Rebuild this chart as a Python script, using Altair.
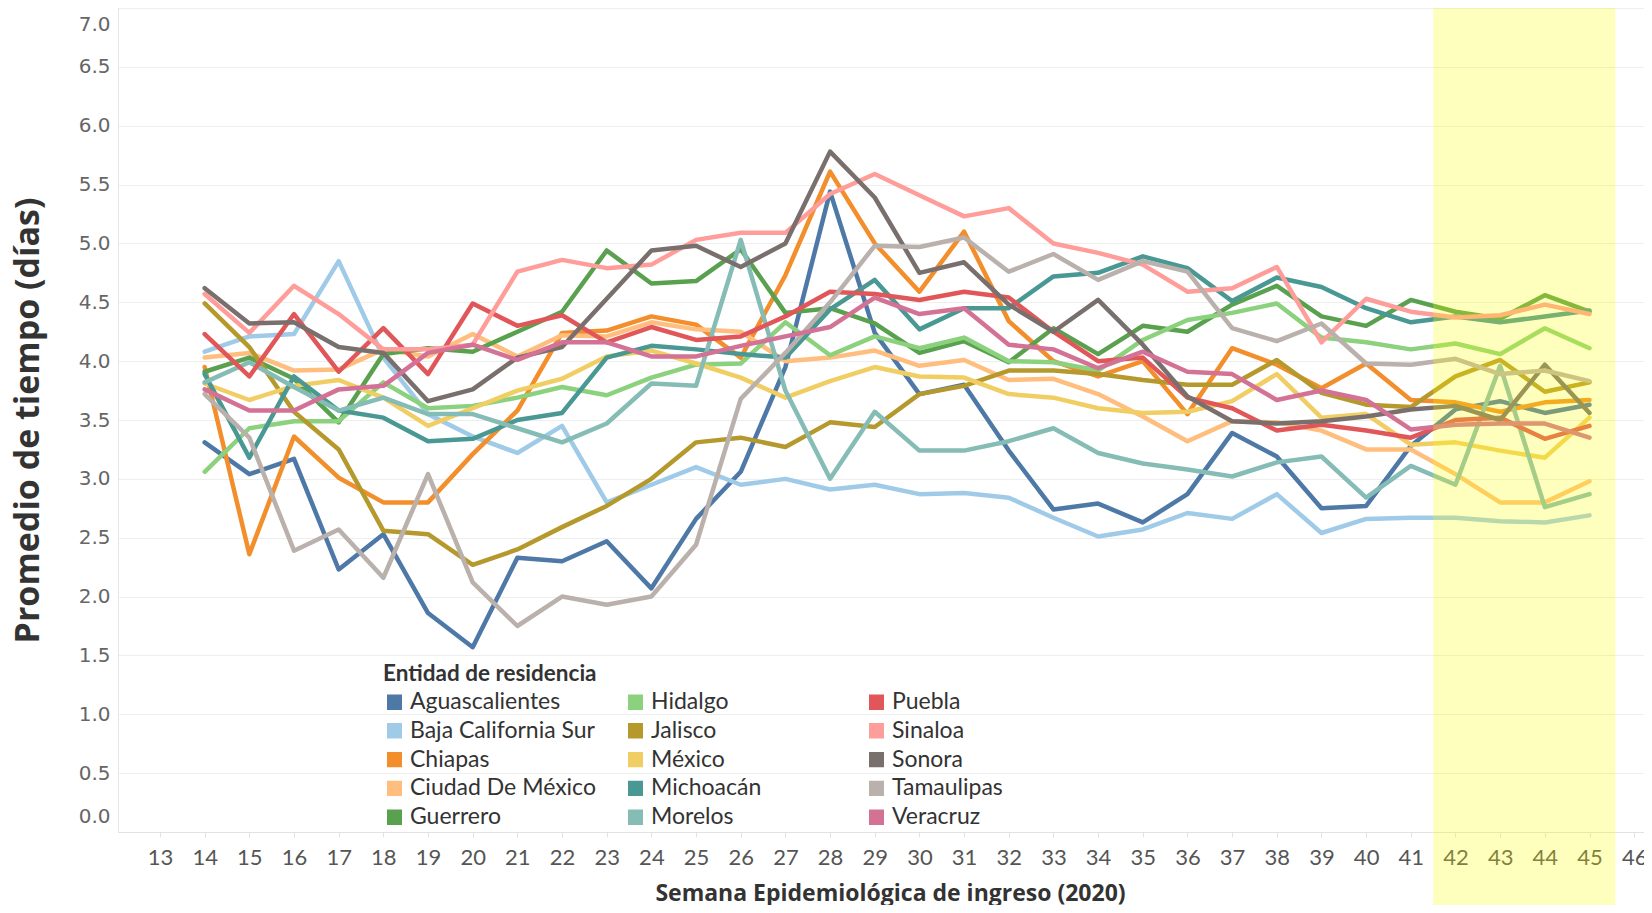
import altair as alt
import pandas as pd

weeks = [14, 15, 16, 17, 18, 19, 20, 21, 22, 23, 24, 25, 26, 27, 28, 29,
         30, 31, 32, 33, 34, 35, 36, 37, 38, 39, 40, 41, 42, 43, 44, 45]

aguascalientes = [3.31, 3.04, 3.17, 2.23, 2.53, 1.86, 1.57, 2.33, 2.30, 2.47, 2.07, 2.66, 3.06, 3.95, 5.44, 4.24,
                  3.72, 3.80, 3.24, 2.74, 2.79, 2.63, 2.87, 3.39, 3.19, 2.75, 2.77, 3.28, 3.59, 3.66, 3.56, 3.63]
baja_california_sur = [4.08, 4.21, 4.23, 4.85, 4.03, 3.55, 3.36, 3.22, 3.45, 2.80, 2.95, 3.10, 2.95, 3.00, 2.91, 2.95,
                       2.87, 2.88, 2.84, 2.67, 2.51, 2.57, 2.71, 2.66, 2.87, 2.54, 2.66, 2.67, 2.67, 2.64, 2.63, 2.69]
chiapas = [3.95, 2.36, 3.36, 3.01, 2.80, 2.80, 3.21, 3.58, 4.24, 4.26, 4.38, 4.31, 4.03, 4.73, 5.61, 5.00,
           4.59, 5.10, 4.34, 4.00, 3.87, 4.00, 3.55, 4.11, 3.97, 3.77, 3.98, 3.67, 3.65, 3.57, 3.65, 3.67]
ciudad_de_mexico = [4.03, 4.07, 3.92, 3.93, 4.10, 4.04, 4.23, 4.04, 4.22, 4.21, 4.33, 4.27, 4.25, 4.00, 4.03, 4.09,
                    3.96, 4.01, 3.84, 3.85, 3.72, 3.53, 3.32, 3.49, 3.48, 3.41, 3.25, 3.25, 3.04, 2.80, 2.80, 2.98]
guerrero = [3.91, 4.03, 3.85, 3.48, 4.06, 4.11, 4.08, 4.25, 4.42, 4.94, 4.66, 4.68, 4.95, 4.41, 4.45, 4.32,
            4.07, 4.17, 3.99, 4.28, 4.06, 4.30, 4.25, 4.48, 4.64, 4.38, 4.30, 4.52, 4.42, 4.36, 4.56, 4.42]
hidalgo = [3.06, 3.43, 3.49, 3.49, 3.82, 3.60, 3.62, 3.69, 3.78, 3.71, 3.86, 3.97, 3.98, 4.33, 4.05, 4.21,
           4.11, 4.20, 4.00, 3.99, 3.92, 4.18, 4.35, 4.41, 4.49, 4.20, 4.16, 4.10, 4.15, 4.06, 4.28, 4.11]
jalisco = [4.49, 4.12, 3.57, 3.25, 2.56, 2.53, 2.27, 2.40, 2.59, 2.77, 3.00, 3.31, 3.35, 3.27, 3.48, 3.44,
           3.72, 3.79, 3.92, 3.92, 3.89, 3.84, 3.80, 3.80, 4.01, 3.73, 3.63, 3.61, 3.87, 4.01, 3.74, 3.82]
mexico = [3.81, 3.67, 3.79, 3.84, 3.69, 3.45, 3.60, 3.75, 3.85, 4.04, 4.09, 3.98, 3.86, 3.69, 3.83, 3.95,
          3.87, 3.86, 3.72, 3.69, 3.60, 3.56, 3.57, 3.66, 3.89, 3.52, 3.55, 3.29, 3.31, 3.24, 3.18, 3.52]
michoacan = [3.89, 3.18, 3.87, 3.58, 3.52, 3.32, 3.34, 3.50, 3.56, 4.03, 4.13, 4.10, 4.06, 4.03, 4.44, 4.69,
             4.27, 4.45, 4.45, 4.72, 4.75, 4.89, 4.79, 4.51, 4.71, 4.63, 4.45, 4.33, 4.38, 4.33, 4.38, 4.43]
morelos = [3.82, 3.99, 3.78, 3.58, 3.69, 3.55, 3.55, 3.43, 3.31, 3.47, 3.81, 3.79, 5.03, 3.75, 3.00, 3.57,
           3.24, 3.24, 3.32, 3.43, 3.22, 3.13, 3.08, 3.02, 3.14, 3.19, 2.84, 3.11, 2.95, 3.96, 2.76, 2.87]
puebla = [4.23, 3.87, 4.40, 3.91, 4.28, 3.89, 4.49, 4.30, 4.39, 4.16, 4.29, 4.18, 4.21, 4.38, 4.59, 4.57,
          4.52, 4.59, 4.54, 4.25, 4.00, 4.03, 3.69, 3.60, 3.41, 3.46, 3.41, 3.35, 3.50, 3.52, 3.34, 3.45]
sinaloa = [4.57, 4.24, 4.64, 4.40, 4.10, 4.10, 4.14, 4.76, 4.86, 4.79, 4.82, 5.03, 5.09, 5.09, 5.42, 5.59,
           5.41, 5.23, 5.30, 5.00, 4.92, 4.82, 4.59, 4.62, 4.80, 4.16, 4.53, 4.42, 4.37, 4.39, 4.48, 4.40]
sonora = [4.62, 4.32, 4.33, 4.12, 4.07, 3.66, 3.76, 4.03, 4.12, 4.53, 4.94, 4.98, 4.80, 5.00, 5.78, 5.39,
          4.75, 4.84, 4.48, 4.25, 4.52, 4.14, 3.70, 3.49, 3.47, 3.49, 3.53, 3.59, 3.62, 3.50, 3.97, 3.56]
tamaulipas = [3.72, 3.35, 2.39, 2.57, 2.16, 3.04, 2.12, 1.75, 2.00, 1.93, 2.00, 2.44, 3.68, 4.07, 4.50, 4.98,
              4.97, 5.05, 4.76, 4.91, 4.69, 4.85, 4.76, 4.28, 4.17, 4.32, 3.98, 3.97, 4.02, 3.89, 3.92, 3.83]
veracruz = [3.76, 3.58, 3.58, 3.76, 3.79, 4.07, 4.14, 4.01, 4.16, 4.16, 4.04, 4.04, 4.13, 4.21, 4.29, 4.54,
            4.40, 4.45, 4.14, 4.10, 3.94, 4.08, 3.91, 3.89, 3.67, 3.75, 3.67, 3.42, 3.46, 3.47, 3.47, 3.35]

states = ["Aguascalientes", "Baja California Sur", "Chiapas", "Ciudad De México", "Guerrero",
          "Hidalgo", "Jalisco", "México", "Michoacán", "Morelos",
          "Puebla", "Sinaloa", "Sonora", "Tamaulipas", "Veracruz"]
series = [aguascalientes, baja_california_sur, chiapas, ciudad_de_mexico, guerrero,
          hidalgo, jalisco, mexico, michoacan, morelos,
          puebla, sinaloa, sonora, tamaulipas, veracruz]
colors = ["#4E79A7", "#A0CBE8", "#F28E2B", "#FFBE7D", "#59A14F",
          "#8CD17D", "#B6992D", "#F1CE63", "#499894", "#86BCB6",
          "#E15759", "#FF9D9A", "#79706E", "#BAB0AC", "#D37295"]

y_ticks = [0.0, 0.5, 1.0, 1.5, 2.0, 2.5, 3.0, 3.5, 4.0, 4.5, 5.0, 5.5, 6.0, 6.5, 7.0]
x_ticks = [13, 14, 15, 16, 17, 18, 19, 20, 21, 22, 23, 24, 25, 26, 27, 28, 29,
           30, 31, 32, 33, 34, 35, 36, 37, 38, 39, 40, 41, 42, 43, 44, 45, 46]
highlight_start = [41.5]
highlight_end = [45.58]

rows = []
for name, vals in zip(states, series):
    for w, v in zip(weeks, vals):
        rows.append({"week": w, "value": v, "state": name})
df = pd.DataFrame(rows)

# solid square legend swatch drawn as tightly packed stroked rows (line legends are stroke-only)
SWATCH = "".join("M-1,%.2fH1" % (-0.95 + 0.1 * i) for i in range(20))

W, H = 1526, 824
X_TITLE = "Semana Epidemiológica de ingreso (2020)"
xscale = alt.Scale(domain=[12.06, 46.22], nice=False, zero=False)

lines = alt.Chart(df).mark_line(strokeWidth=4.5, strokeJoin="round", strokeCap="round").encode(
    x=alt.X("week:Q", scale=xscale,
            axis=alt.Axis(values=x_ticks, format="d", title=X_TITLE, grid=False,
                          labelFont="Lato", labelFontSize=22, labelColor="#555555",
                          labelPadding=10, labelOverlap=False, labelFlush=False,
                          tickSize=5, tickColor="#e2e2e2", domainColor="#e2e2e2",
                          titleFont="Open Sans", titleFontSize=23, titleFontWeight="bold",
                          titleColor="#333333", titleY=68, titleX=772,
                          titleBaseline="alphabetic")),
    y=alt.Y("value:Q", scale=alt.Scale(domain=[0, 7], nice=False, zero=True),
            axis=alt.Axis(values=y_ticks, format=".1f", title="Promedio de tiempo (días)",
                          grid=True, gridColor="#eeeeee", gridWidth=1,
                          ticks=False, labelPadding=8, labelFont="DejaVu Sans",
                          labelFontSize=20, labelColor="#666666",
                          labelFlush=True, labelFlushOffset=-6,
                          domainColor="#e6e6e6",
                          titleFont="Open Sans", titleFontSize=34, titleFontWeight="bold",
                          titleColor="#333333", titleX=-90, titleY=H / 2,
                          titleBaseline="middle", titleAlign="center", titleAngle=270)),
    color=alt.Color("state:N", scale=alt.Scale(domain=states, range=colors),
                    legend=alt.Legend(orient="none", legendX=265, legendY=655, columns=3,
                                      direction="vertical",
                                      title="Entidad de residencia", titleLimit=500,
                                      titleFont="Lato", titleFontSize=22.5, titleFontWeight="bold",
                                      titleColor="#333333", titlePadding=5,
                                      labelFont="Lato", labelFontSize=23, labelColor="#333333",
                                      labelLimit=400, labelOffset=4,
                                      symbolType=SWATCH, symbolSize=225, symbolStrokeWidth=1.1,
                                      symbolOpacity=1, rowPadding=4.8, columnPadding=28,
                                      gridAlign="all", padding=0)),
)

band_df = pd.DataFrame({"start": highlight_start, "end": highlight_end})
band = alt.Chart(band_df).mark_rect(color="#ffff00", opacity=0.26).encode(
    x=alt.X("start:Q", scale=xscale, title=X_TITLE),
    x2="end:Q",
    y=alt.value(0),
    y2=alt.value(H + 80),
)

chart = alt.layer(lines, band).properties(
    width=W, height=H,
    padding={"left": 110, "top": 0, "right": 0, "bottom": 73},
    autosize=alt.AutoSizeParams(type="none"),
).configure_view(stroke=None).configure(background="white")

chart.save("out.html", embed_options={"renderer": "svg", "actions": False})
